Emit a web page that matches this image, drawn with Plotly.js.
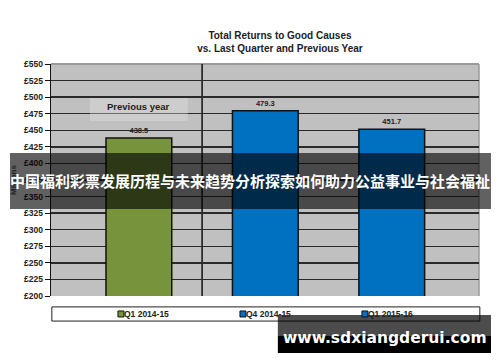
<!DOCTYPE html>
<html>
<head>
<meta charset="utf-8">
<script src="https://cdn.plot.ly/plotly-3.0.1.min.js"></script>
<style>
html,body{margin:0;padding:0;background:#fff;}
#chart{width:500px;height:362px;}
</style>
</head>
<body>
<div id="chart"></div>
<script>
const categories = ['Q1 2014-15', 'Q4 2014-15', 'Q1 2015-16'];
const values = [438.5, 479.3, 451.7];
const barColors = ['#77933c', '#0070c0', '#0070c0'];
const yTicks = [200, 225, 250, 275, 300, 325, 350, 375, 400, 425, 450, 475, 500, 525, 550];
const yTickLabels = yTicks.map(v => '£' + v);

const F = 'Liberation Sans, Arial, sans-serif';

const traces = categories.map((c, i) => ({
  type: 'bar',
  name: c,
  x: [c],
  y: [values[i]],
  width: 0.52,
  marker: {color: barColors[i], line: {color: '#111', width: 1.5}},
  text: [values[i].toFixed(1)],
  textposition: 'outside',
  cliponaxis: false,
  textfont: {family: F, size: 7.5, color: '#222', weight: 'bold'},
  hoverinfo: 'x+y'
}));

const layout = {
  width: 500, height: 362,
  margin: {l: 51, r: 21, t: 64, b: 66},
  paper_bgcolor: '#ffffff',
  plot_bgcolor: '#c0c0c0',
  showlegend: true,
  barmode: 'overlay',
  bargap: 0,
  title: {
    text: '<b>Total Returns to Good Causes<br>vs. Last Quarter and Previous Year</b>',
    font: {family: F, size: 10, color: '#222'},
    x: 0.535, xref: 'paper', xanchor: 'center',
    y: 1 - 39/362, yref: 'container', yanchor: 'middle'
  },
  xaxis: {
    type: 'category',
    categoryarray: categories,
    range: [-0.695, 2.69],
    showticklabels: false,
    ticks: '',
    showgrid: false,
    zeroline: false,
    showline: false,
    fixedrange: true
  },
  yaxis: {
    range: [200, 550],
    tickvals: yTicks,
    ticktext: yTickLabels,
    tickfont: {family: F, size: 8.5, color: '#222', weight: 'bold'},
    ticks: 'outside', ticklen: 5, tickcolor: '#111', tickwidth: 1,
    showgrid: true, gridcolor: '#2a2a2a', gridwidth: 1.3,
    showline: true, linecolor: '#111', linewidth: 1.3,
    zeroline: false,
    title: {text: '<b>Millions</b>', font: {family: F, size: 8, color: '#222'}, standoff: 6},
    fixedrange: true
  },
  legend: {
    orientation: 'h',
    x: 0.077, xanchor: 'left',
    y: -0.015, yanchor: 'top',
    entrywidth: 77,
    itemwidth: 30,
    font: {family: F, size: 8.5, color: '#222', weight: 'bold'},
    bgcolor: 'rgba(0,0,0,0)',
    borderwidth: 0,
    traceorder: 'normal'
  },
  shapes: [
    {type: 'line', xref: 'paper', yref: 'paper', x0: 0, x1: 1, y0: 1, y1: 1, layer: 'between', line: {color: '#9a9a9a', width: 2}},
    {type: 'line', xref: 'paper', yref: 'paper', x0: 1, x1: 1, y0: 0, y1: 1, layer: 'between', line: {color: '#9a9a9a', width: 1.5}},
    {type: 'line', xref: 'x', yref: 'paper', x0: 0.5, x1: 0.5, y0: 0, y1: 1, layer: 'between', line: {color: '#111', width: 1.5}},
    {type: 'rect', xref: 'x', yref: 'y', x0: -0.387, x1: 0.387, y0: 464, y1: 498.6, layer: 'above', fillcolor: 'rgba(230,230,230,0.35)', line: {width: 0}},
    {type: 'rect', xref: 'paper', yref: 'paper', x0: 0.002, x1: 1.002, y0: -0.047, y1: -0.108, layer: 'below', fillcolor: '#ffffff', line: {color: '#222', width: 1}},
    {type: 'rect', xref: 'paper', yref: 'paper', x0: -0.0958, x1: 1.028, y0: 0.375, y1: 0.616, layer: 'above', fillcolor: 'rgba(0,0,0,0.62)', line: {width: 0}},
    {type: 'rect', xref: 'paper', yref: 'paper', x0: 0.530, x1: 1.028, y0: -0.1724, y1: -0.0819, layer: 'above', fillcolor: 'rgba(0,0,0,0.7)', line: {width: 0}},
    {type: 'rect', xref: 'paper', yref: 'paper', x0: 0.530, x1: 1.028, y0: -0.2457, y1: -0.1724, layer: 'above', fillcolor: '#000000', line: {width: 0}}
  ],
  annotations: [
    {text: '<b>Previous year</b>', xref: 'x', yref: 'y', x: 0, y: 486.6, showarrow: false,
     font: {family: F, size: 9.5, color: '#222'}, xanchor: 'center', yanchor: 'middle'},
    {text: '<b>中国福利彩票发展历程与未来趋势分析探索如何助力公益事业与社会福祉</b>', xref: 'paper', yref: 'paper',
     x: 0.465, y: 0.496, showarrow: false, xanchor: 'center', yanchor: 'middle',
     font: {family: 'Noto Sans CJK SC, sans-serif', size: 15, color: '#ffffff'}},
    {text: '<b>www.sdxiangderui.com</b>', xref: 'paper', yref: 'paper',
     x: 0.780, y: -0.181, showarrow: false, xanchor: 'center', yanchor: 'middle',
     font: {family: 'DejaVu Sans, sans-serif', size: 15.5, color: '#ffffff'}}
  ]
};

function shrinkLegendIcons() {
  document.querySelectorAll('#chart .legendpoints path').forEach(p => {
    p.setAttribute('transform', 'translate(37,0) scale(0.5)');
    p.style.strokeWidth = '2px';
  });
}

Plotly.newPlot('chart', traces, layout, {displayModeBar: false, staticPlot: true}).then(shrinkLegendIcons);
</script>
</body>
</html>
